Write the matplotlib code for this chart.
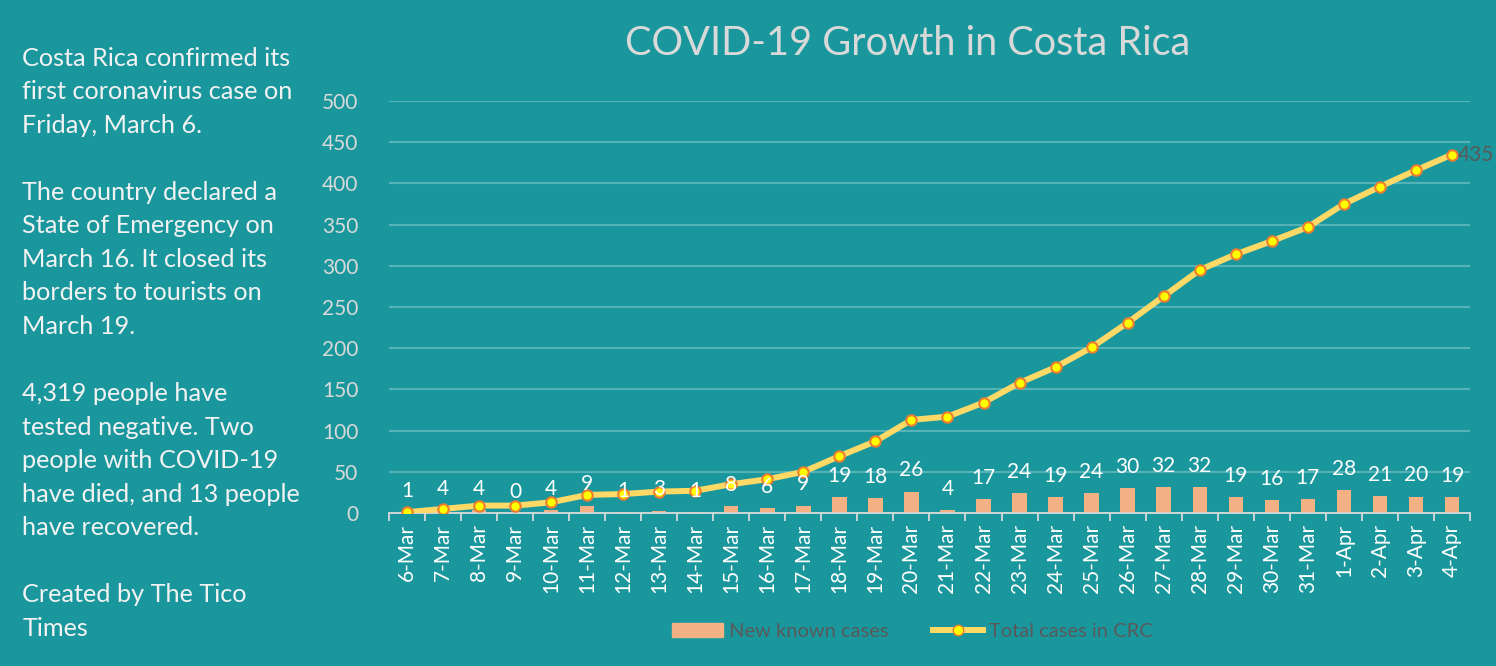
import matplotlib
matplotlib.use("Agg")
import matplotlib.pyplot as plt
import matplotlib.patches as mpatches
from matplotlib.lines import Line2D
import numpy as np

plt.rcParams["font.family"] = ["Lato", "DejaVu Sans"]

FUNDO = "#1A979D"
GRADE = "#55B3B7"
CINZA_CLARO = "#D9D9D9"
CINZA_ESCURO = "#595959"

datas = ["6-Mar", "7-Mar", "8-Mar", "9-Mar", "10-Mar", "11-Mar", "12-Mar", "13-Mar",
         "14-Mar", "15-Mar", "16-Mar", "17-Mar", "18-Mar", "19-Mar", "20-Mar", "21-Mar",
         "22-Mar", "23-Mar", "24-Mar", "25-Mar", "26-Mar", "27-Mar", "28-Mar", "29-Mar",
         "30-Mar", "31-Mar", "1-Apr", "2-Apr", "3-Apr", "4-Apr"]
novos_casos = [1, 4, 4, 0, 4, 9, 1, 3, 1, 8, 6, 9, 19, 18, 26, 4,
               17, 24, 19, 24, 30, 32, 32, 19, 16, 17, 28, 21, 20, 19]
total_casos = [1, 5, 9, 9, 13, 22, 23, 26, 27, 35, 41, 50, 69, 87, 113, 117,
               134, 158, 177, 201, 231, 263, 295, 314, 330, 347, 375, 396, 416, 435]
yticks = [0, 50, 100, 150, 200, 250, 300, 350, 400, 450, 500]

texto_lateral = (
    "Costa Rica confirmed its\nfirst coronavirus case on\nFriday, March 6.\n\n"
    "The country declared a\nState of Emergency on\nMarch 16. It closed its\n"
    "borders to tourists on\nMarch 19.\n\n"
    "4,319 people have\ntested negative. Two\npeople with COVID-19\n"
    "have died, and 13 people\nhave recovered.\n\n"
    "Created by The Tico\nTimes"
)

fig = plt.figure(figsize=(14.96, 6.66), dpi=100, facecolor=FUNDO)
ax = fig.add_axes([0.260, 0.2297, 0.7226, 0.6186], facecolor=FUNDO)

x = np.arange(len(datas))
ax.bar(x, novos_casos, width=0.4, color="#F4B183", zorder=2)
ax.plot(x, total_casos, color="#FFD966", linewidth=4.3, marker="o", markersize=7.5,
        markerfacecolor="#FFFF00", markeredgecolor="#ED7D31", markeredgewidth=1.5, zorder=3)

for xi, v in zip(x, novos_casos):
    ax.annotate(str(v), (xi, v), textcoords="offset points", xytext=(0, 8),
                ha="center", va="bottom", fontsize=15, color="white", zorder=4)

ax.annotate(str(total_casos[-1]), (x[-1], total_casos[-1]), textcoords="offset points",
            xytext=(4, 0), ha="left", va="center", fontsize=15, color=CINZA_ESCURO)

ax.set_xlim(-0.5, len(datas) - 0.5)
ax.set_ylim(0, 500)
ax.set_yticks(yticks)
ax.set_yticklabels([str(t) for t in yticks], fontsize=15, color=CINZA_CLARO)
ax.yaxis.grid(True, color=GRADE, linewidth=1.5)
ax.set_axisbelow(True)
ax.tick_params(axis="y", length=0, pad=22)

ax.set_xticks(x)
ax.set_xticklabels(datas, rotation=90, fontsize=15, color="white")
ax.tick_params(axis="x", which="major", length=0, pad=8)
ax.set_xticks(np.arange(-0.5, len(datas)), minor=True)
ax.tick_params(axis="x", which="minor", length=6, width=1.3, color=CINZA_CLARO, direction="out")

for lado in ["top", "right", "left"]:
    ax.spines[lado].set_visible(False)
ax.spines["bottom"].set_color(CINZA_CLARO)
ax.spines["bottom"].set_linewidth(1.3)

fig.text(0.607, 0.935, "COVID-19 Growth in Costa Rica", ha="center", va="center",
         fontsize=28.5, color=CINZA_CLARO)

fig.text(0.015, 0.93, texto_lateral, ha="left", va="top", fontsize=18.2,
         color="#F2F2F2", linespacing=1.555)

legendas = [
    mpatches.Patch(color="#F4B183", label="New known cases"),
    Line2D([0], [0], color="#FFD966", linewidth=4.3, marker="o", markersize=7.5,
           markerfacecolor="#FFFF00", markeredgecolor="#ED7D31", label="Total cases in CRC"),
]
leg = fig.legend(handles=legendas, loc="center", bbox_to_anchor=(0.61, 0.052), ncol=2,
                 frameon=False, fontsize=14.5, handlelength=2.5, handletextpad=0.3,
                 columnspacing=2.2)
for t in leg.get_texts():
    t.set_color(CINZA_ESCURO)

fig.savefig("out.png", dpi=100, facecolor=FUNDO)
